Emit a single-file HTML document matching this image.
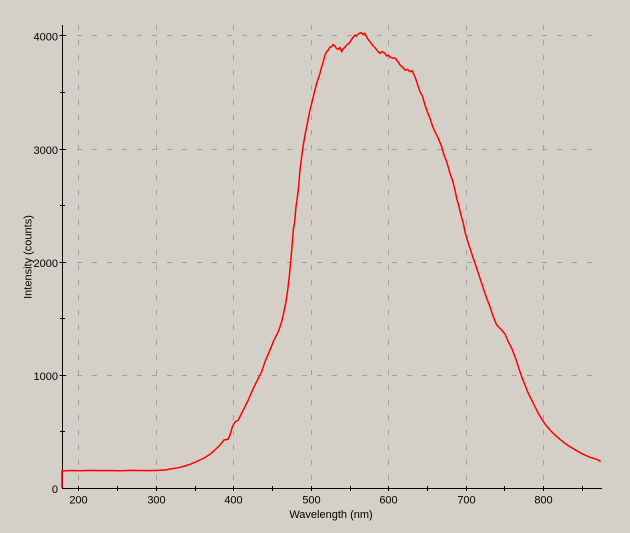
<!DOCTYPE html>
<html><head><meta charset="utf-8"><style>
html,body{margin:0;padding:0;background:#d4d0c8;}
svg{display:block;}
text{font-family:"Liberation Sans",Arial,sans-serif;font-size:11px;fill:#000;}
</style></head><body>
<svg width="630" height="533" viewBox="0 0 630 533" xmlns="http://www.w3.org/2000/svg">
<rect x="0" y="0" width="630" height="533" fill="#d4d0c8"/>
<g stroke="#a0a0a0" stroke-width="1" stroke-dasharray="5,10" fill="none">
<line x1="78.5" y1="25" x2="78.5" y2="488"/>
<line x1="156.5" y1="25" x2="156.5" y2="488"/>
<line x1="233.5" y1="25" x2="233.5" y2="488"/>
<line x1="311.5" y1="25" x2="311.5" y2="488"/>
<line x1="388.5" y1="25" x2="388.5" y2="488"/>
<line x1="466.5" y1="25" x2="466.5" y2="488"/>
<line x1="543.5" y1="25" x2="543.5" y2="488"/>
<line x1="62" y1="35.5" x2="601" y2="35.5"/>
<line x1="62" y1="149.5" x2="601" y2="149.5"/>
<line x1="62" y1="262.5" x2="601" y2="262.5"/>
<line x1="62" y1="375.5" x2="601" y2="375.5"/>
</g>
<g stroke="#000" stroke-width="1" fill="none">
<line x1="62.5" y1="25" x2="62.5" y2="489"/>
<line x1="62" y1="488.5" x2="602" y2="488.5"/>
<line x1="59.5" y1="35.5" x2="66" y2="35.5"/>
<line x1="59.5" y1="149.5" x2="66" y2="149.5"/>
<line x1="59.5" y1="262.5" x2="66" y2="262.5"/>
<line x1="59.5" y1="375.5" x2="66" y2="375.5"/>
<line x1="60" y1="92.5" x2="65" y2="92.5"/>
<line x1="60" y1="205.5" x2="65" y2="205.5"/>
<line x1="60" y1="318.5" x2="65" y2="318.5"/>
<line x1="60" y1="431.5" x2="65" y2="431.5"/>
<line x1="78.5" y1="486" x2="78.5" y2="491"/>
<line x1="117.5" y1="486" x2="117.5" y2="491"/>
<line x1="156.5" y1="486" x2="156.5" y2="491"/>
<line x1="195.5" y1="486" x2="195.5" y2="491"/>
<line x1="233.5" y1="486" x2="233.5" y2="491"/>
<line x1="272.5" y1="486" x2="272.5" y2="491"/>
<line x1="311.5" y1="486" x2="311.5" y2="491"/>
<line x1="350.5" y1="486" x2="350.5" y2="491"/>
<line x1="388.5" y1="486" x2="388.5" y2="491"/>
<line x1="427.5" y1="486" x2="427.5" y2="491"/>
<line x1="466.5" y1="486" x2="466.5" y2="491"/>
<line x1="504.5" y1="486" x2="504.5" y2="491"/>
<line x1="543.5" y1="486" x2="543.5" y2="491"/>
<line x1="582.5" y1="486" x2="582.5" y2="491"/>
</g>
<g text-anchor="end">
<text x="58" y="40.5">4000</text>
<text x="58" y="154">3000</text>
<text x="58" y="267">2000</text>
<text x="58" y="380">1000</text>
<text x="58" y="493">0</text>
</g>
<g text-anchor="middle">
<text x="78.5" y="503.5">200</text>
<text x="156.5" y="503.5">300</text>
<text x="233.5" y="503.5">400</text>
<text x="311.5" y="503.5">500</text>
<text x="388.5" y="503.5">600</text>
<text x="466.5" y="503.5">700</text>
<text x="543.5" y="503.5">800</text>
<text x="331" y="518">Wavelength (nm)</text>
<text x="0" y="0" transform="translate(31.5,257) rotate(-90)">Intensity (counts)</text>
</g>
<polyline fill="none" stroke="#ff0000" stroke-width="1.5" stroke-linejoin="round" points="
62,488 62,471 70,470.5 80,470.7 90,470.4 100,470.6 110,470.5 120,470.8 130,470.4 140,470.5 150,470.6 160,470.3 165,470 170,469 175,468.3 180,467.3 185,466 190,464.3 195,462.3 200,460 205,457.5 210,454.3 215,450 220,445 224,440 228,439.3 230,435 232.3,427 235,422 238.3,420 243.3,410 248.3,400 253.3,388.3 258.3,378.3 261.7,371.7 265,361.7 270,350 273.3,341.7 278.3,331.7 281.7,321.7 284,311.7 286,301.7 287.7,290 289.3,276.7 290.7,261.7 292,246.7 293.3,230 294.7,221.7 296,206.7 297.3,198 298.7,186 300,170 301.7,156.7 303.3,145 305,135 306.7,126.7 308.3,118.3 310,110 311.7,103.3 313.3,96.7 315,90 316.7,83.3 318.3,78.3 320,73.3 321.7,66.7 323.3,61.7 325,55 326.7,51.7 328.3,50 330,47 331.7,46.7 333,44.5 335,46 336.5,48.5 338.3,49.3 340,47.5 341.7,51.7 343,49 345,47.3 346.5,45 348.3,44 350,42 351.7,39.3 353,37.5 355,35 356.5,36 358.3,34 360,33 361.7,32.7 363,34.5 365,33.3 367.3,38.3 370,41.7 373.3,46 375,47.5 376.7,50 378.5,52 380,53.3 382,51.5 385,53.3 386.5,56 388.3,55 390,57 393.3,58.3 395,58 396.7,60 398.5,62.5 400,65 402.5,67 405,70 407.5,69.5 410,71.7 412,70.5 413.3,73.3 415,76.7 416.7,81.7 418.3,86.7 420,91.7 422.7,96.7 425,105 427.3,111.7 430,118.3 432.7,126.7 435,131.7 438.3,138.3 441.7,146.7 444,155 446.7,161.7 450,173.3 452.7,181 455,190 456.7,198.3 459,206.7 461,215 463.3,223.3 465,231.7 467.3,240 470,248.3 473.3,258.3 476.7,268.3 480,278.3 483.3,288.3 486.7,298.3 490,306.7 493.3,316.7 496.7,325 501.7,330 505,334 508.3,341.7 511.7,348.3 515,356.7 518.3,366.7 521.7,376.7 525,385 528.3,393.3 531.7,400 535,406.7 538.3,413.3 541.7,419 545,424 550,430 555,435 560,439.3 565,443.3 570,446.7 576.7,450.7 583.3,454.3 590,457.3 596.7,459.3 600.7,461.3"/>
</svg>
</body></html>
